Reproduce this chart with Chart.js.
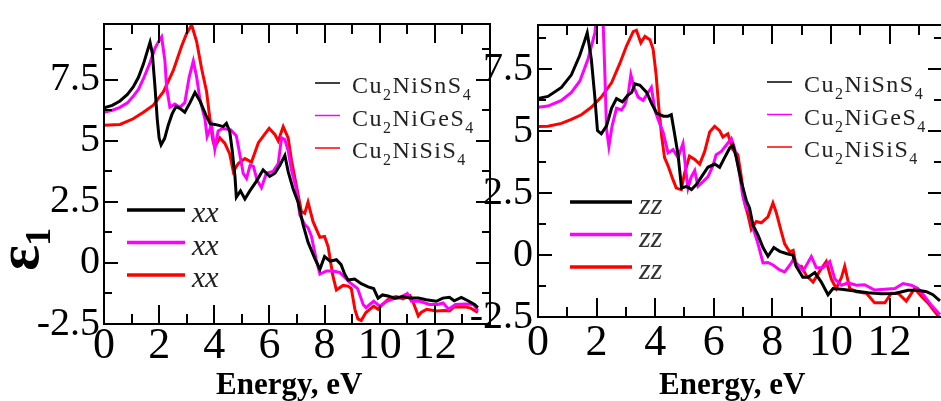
<!DOCTYPE html>
<html>
<head>
<meta charset="utf-8">
<script src="https://cdn.jsdelivr.net/npm/chart.js@4.4.0/dist/chart.umd.min.js"></script>
<style>
  html, body { margin: 0; padding: 0; background: #fff; }
  #wrap { position: relative; width: 941px; height: 401px; overflow: hidden; }
  #chartXX { position: absolute; left: 0; top: 0; }
  #chartZZ { position: absolute; left: 470px; top: 0; }
</style>
</head>
<body>
<div id="wrap">
  <canvas id="chartXX" width="492" height="401"></canvas>
  <canvas id="chartZZ" width="473" height="401"></canvas>
</div>
<script>
// compound names, same order as the series
const materials = ['Cu2NiSnS4', 'Cu2NiGeS4', 'Cu2NiSiS4'];
const colors = ['#000000', '#ff00ff', '#ff0000'];

// xx component (left panel): energy in eV, eps1
const xxSnE = [0, 0.3, 0.58, 0.85, 1.06, 1.25, 1.43, 1.58, 1.67, 1.75, 1.85, 1.93, 2.0, 2.07, 2.2, 2.33, 2.47, 2.61, 2.75, 2.93, 3.12, 3.3, 3.48, 3.7, 3.85, 4.02, 4.2, 4.32, 4.44, 4.56, 4.65, 4.75, 4.8, 4.95, 5.11, 5.29, 5.53, 5.77, 6.01, 6.2, 6.38, 6.56, 6.68, 6.86, 7.04, 7.22, 7.4, 7.64, 7.83, 8.0, 8.2, 8.43, 8.6, 8.73, 8.85, 9.09, 9.33, 9.58, 9.78, 9.94, 10.1, 10.3, 10.54, 10.84, 11.09, 11.4, 11.69, 12.05, 12.29, 12.53, 12.7, 12.96, 13.2, 13.44, 13.56];
const xxSn = [6.35, 6.45, 6.63, 6.9, 7.2, 7.6, 8.14, 8.7, 9.03, 8.6, 7.2, 5.9, 5.1, 4.83, 5.1, 5.64, 6.1, 6.4, 6.33, 6.17, 6.56, 6.98, 6.63, 6.04, 5.7, 5.67, 5.62, 5.58, 5.71, 5.38, 4.6, 3.54, 2.69, 2.95, 2.62, 2.95, 3.35, 3.81, 3.54, 3.67, 4.0, 4.4, 3.74, 3.02, 2.49, 1.57, 0.85, 0.2, -0.26, 0.26, 0.07, 0.13, -0.07, -0.46, -0.7, -0.66, -0.85, -0.98, -1.05, -1.44, -1.31, -1.35, -1.44, -1.38, -1.44, -1.44, -1.51, -1.57, -1.44, -1.41, -1.55, -1.41, -1.55, -1.7, -1.83];

const xxGeE = [0, 0.3, 0.58, 0.85, 1.06, 1.25, 1.43, 1.67, 1.85, 2.0, 2.09, 2.21, 2.27, 2.39, 2.57, 2.75, 2.93, 3.09, 3.24, 3.36, 3.48, 3.66, 3.74, 3.9, 4.02, 4.14, 4.3, 4.6, 4.8, 4.9, 5.05, 5.17, 5.3, 5.42, 5.55, 5.71, 5.89, 6.13, 6.32, 6.44, 6.56, 6.68, 6.8, 6.98, 7.1, 7.28, 7.4, 7.52, 7.7, 7.83, 8.07, 8.31, 8.55, 8.79, 8.9, 9.2, 9.4, 9.5, 9.78, 10.0, 10.25, 10.5, 10.7, 11.0, 11.15, 11.45, 11.8, 12.1, 12.3, 12.5, 12.75, 13.1, 13.4, 13.56];
const xxGe = [6.17, 6.25, 6.37, 6.55, 6.82, 7.1, 7.54, 8.2, 8.79, 9.1, 9.25, 8.27, 7.2, 6.37, 6.5, 6.37, 6.56, 7.61, 8.27, 7.61, 6.69, 5.9, 5.18, 5.64, 4.66, 5.4, 5.5, 5.45, 5.2, 4.6, 3.66, 3.46, 4.0, 3.95, 3.4, 3.08, 3.67, 3.74, 4.07, 5.12, 5.05, 4.59, 3.8, 3.02, 1.97, 1.57, 1.44, 1.1, 0.13, -0.46, -0.33, -0.33, -0.39, -0.66, -0.79, -1.05, -1.7, -1.83, -1.57, -1.77, -1.57, -1.47, -1.44, -1.25, -1.57, -1.57, -1.7, -1.7, -1.64, -1.9, -1.7, -1.68, -1.7, -1.96];

const xxSiE = [0, 0.58, 1.06, 1.43, 1.79, 2.16, 2.51, 2.81, 3.0, 3.18, 3.36, 3.54, 3.72, 3.84, 3.95, 4.02, 4.2, 4.38, 4.56, 4.69, 4.87, 5.11, 5.35, 5.6, 5.77, 5.99, 6.2, 6.32, 6.5, 6.68, 6.8, 6.98, 7.16, 7.28, 7.4, 7.58, 7.83, 8.0, 8.13, 8.3, 8.43, 8.67, 8.85, 8.97, 9.1, 9.21, 9.33, 9.5, 9.78, 9.94, 10.1, 10.35, 10.6, 10.84, 11.1, 11.2, 11.4, 11.5, 11.7, 12.05, 12.35, 12.53, 12.7, 13.1, 13.3, 13.56];
const xxSi = [5.64, 5.67, 5.9, 6.17, 6.46, 7.02, 7.87, 8.86, 9.4, 9.74, 9.06, 7.96, 7.02, 5.9, 5.0, 4.75, 5.12, 4.9, 4.46, 3.74, 4.07, 4.27, 4.13, 4.92, 5.18, 5.51, 5.25, 4.99, 5.58, 5.12, 4.2, 3.15, 2.1, 2.03, 2.49, 1.7, 1.05, 1.08, 0.66, -0.52, -1.11, -0.92, -0.95, -1.05, -1.9, -2.29, -2.36, -2.03, -1.77, -1.9, -1.7, -1.44, -1.38, -1.47, -1.34, -1.57, -2.17, -2.03, -1.9, -1.97, -1.95, -1.97, -1.8, -1.8, -1.85, -2.03];

// zz component (right panel)
const zzSnE = [0, 0.34, 0.8, 1.14, 1.42, 1.58, 1.68, 1.82, 1.94, 2.03, 2.16, 2.34, 2.51, 2.68, 2.88, 3.06, 3.2, 3.31, 3.48, 3.71, 3.88, 4.05, 4.28, 4.44, 4.55, 4.67, 4.78, 4.9, 5.07, 5.24, 5.41, 5.58, 5.8, 6.03, 6.2, 6.37, 6.54, 6.65, 6.77, 6.94, 7.11, 7.22, 7.34, 7.51, 7.68, 7.85, 8.05, 8.25, 8.5, 8.7, 8.81, 9.04, 9.22, 9.45, 9.67, 9.9, 10.07, 10.36, 10.81, 11.27, 11.72, 12.18, 12.63, 12.97, 13.26, 13.48, 13.72];
const zzSn = [6.31, 6.4, 6.76, 7.27, 8.04, 8.6, 8.97, 7.9, 6.37, 5.02, 4.89, 5.21, 5.92, 6.31, 6.18, 6.44, 6.56, 6.91, 6.85, 6.56, 6.11, 5.73, 5.6, 5.6, 5.66, 4.83, 4.05, 2.7, 2.77, 2.64, 2.85, 3.15, 3.54, 3.67, 3.54, 3.93, 4.31, 4.44, 3.93, 2.96, 2.2, 1.9, 1.2, 0.8, 0.3, -0.05, 0.3, 0.15, 0.05, 0.0, -0.45, -0.9, -0.9, -0.71, -1.09, -1.6, -1.35, -1.38, -1.45, -1.52, -1.56, -1.55, -1.42, -1.42, -1.48, -1.6, -1.85];

const zzGeE = [0, 0.34, 0.8, 1.14, 1.43, 1.71, 1.94, 2.05, 2.15, 2.22, 2.28, 2.34, 2.42, 2.53, 2.68, 2.85, 2.96, 3.08, 3.17, 3.28, 3.42, 3.59, 3.76, 3.87, 3.99, 4.1, 4.27, 4.44, 4.61, 4.78, 4.95, 5.06, 5.12, 5.23, 5.35, 5.46, 5.63, 5.8, 5.97, 6.08, 6.26, 6.43, 6.6, 6.71, 6.88, 6.99, 7.11, 7.22, 7.34, 7.51, 7.68, 7.85, 8.02, 8.25, 8.42, 8.6, 8.71, 8.88, 9.05, 9.33, 9.5, 9.73, 9.96, 10.13, 10.36, 10.58, 10.87, 11.15, 11.49, 11.84, 12.18, 12.46, 12.74, 12.97, 13.2, 13.43, 13.72];
const zzGe = [5.96, 6.01, 6.24, 6.56, 7.02, 7.92, 8.95, 10.2, 10.6, 9.5, 7.4, 5.08, 4.38, 5.21, 5.92, 5.85, 6.05, 6.5, 7.27, 6.76, 6.37, 6.24, 6.56, 6.76, 5.85, 5.47, 4.96, 4.12, 4.25, 3.93, 4.5, 3.28, 2.7, 3.15, 3.41, 2.77, 2.96, 3.15, 3.6, 4.05, 4.18, 4.44, 4.7, 4.31, 3.28, 2.38, 1.87, 1.8, 1.1, 0.45, -0.32, -0.3, -0.4, -0.6, -0.68, -0.4, -0.19, -0.4, -0.64, -0.06, -0.51, -0.51, -0.26, -0.96, -1.22, -1.12, -1.22, -1.2, -1.41, -1.38, -1.35, -1.15, -1.22, -1.35, -1.67, -2.03, -2.4];

const zzSiE = [0, 0.34, 0.8, 1.14, 1.48, 1.82, 2.16, 2.51, 2.79, 3.02, 3.25, 3.36, 3.51, 3.65, 3.82, 3.93, 4.03, 4.12, 4.22, 4.32, 4.44, 4.61, 4.72, 4.89, 5.0, 5.17, 5.35, 5.52, 5.69, 5.86, 6.03, 6.2, 6.31, 6.48, 6.65, 6.82, 6.94, 7.05, 7.17, 7.28, 7.45, 7.62, 7.85, 8.02, 8.13, 8.3, 8.42, 8.59, 8.71, 8.82, 8.99, 9.16, 9.39, 9.62, 9.84, 10.01, 10.18, 10.36, 10.47, 10.64, 10.87, 11.21, 11.49, 11.84, 12.06, 12.29, 12.57, 12.86, 13.09, 13.31, 13.48, 13.72];
const zzSi = [5.19, 5.2, 5.31, 5.47, 5.66, 5.96, 6.37, 6.95, 7.72, 8.43, 9.01, 9.07, 8.56, 8.82, 8.69, 8.3, 7.3, 6.0, 4.8, 3.93, 3.6, 3.03, 2.7, 2.64, 3.28, 3.99, 3.86, 3.67, 4.18, 4.96, 5.19, 5.02, 4.76, 4.89, 4.25, 4.05, 3.15, 2.12, 1.6, 1.03, 1.35, 1.3, 1.54, 2.1, 1.73, 0.96, 0.45, 0.13, 0.19, -0.45, -0.45, -0.83, -1.09, -0.64, -0.26, -0.96, -1.35, -0.9, -0.45, -1.35, -1.48, -1.54, -1.93, -1.93, -1.54, -1.54, -1.86, -1.35, -1.67, -1.93, -2.19, -2.55];

function pts(es, vs) {
    return es.map((e, i) => ({x: e, y: vs[i]}));
}

function makeDatasets(series) {
    return series.map((s, i) => ({
        label: materials[i],
        data: pts(s[0], s[1]),
        borderColor: colors[i],
        backgroundColor: colors[i],
        borderWidth: 3,
        pointRadius: 0,
        tension: 0,
        fill: false,
        clip: 0
    }));
}

// frame round the plot with inward ticks on all four sides
const frameTicks = {
    id: 'frameTicks',
    afterDatasetsDraw(chart) {
        const {ctx, chartArea: a, scales: {x, y}} = chart;
        ctx.save();
        ctx.strokeStyle = '#000';
        ctx.lineWidth = 2;
        ctx.strokeRect(a.left, a.top, a.right - a.left, a.bottom - a.top);
        ctx.beginPath();
        for (let v = 1; v < x.max; v += 1) {
            const px = Math.round(x.getPixelForValue(v));
            const len = v % 2 === 0 ? 19 : 10;
            ctx.moveTo(px, a.bottom); ctx.lineTo(px, a.bottom - len);
            ctx.moveTo(px, a.top); ctx.lineTo(px, a.top + len);
        }
        for (let k = 1; -2.5 + k * 1.25 < y.max; k++) {
            const py = Math.round(y.getPixelForValue(-2.5 + k * 1.25));
            const len = k % 2 === 0 ? 14 : 8;
            ctx.moveTo(a.left, py); ctx.lineTo(a.left + len, py);
            ctx.moveTo(a.right, py); ctx.lineTo(a.right - len, py);
        }
        ctx.stroke();
        ctx.restore();
    }
};

function drawFormula(ctx, text, x, y) {
    let cx = x;
    for (const ch of text) {
        const sub = ch >= '0' && ch <= '9';
        ctx.font = sub ? '16px "Liberation Serif"' : '24px "Liberation Serif"';
        ctx.fillText(ch, cx, sub ? y + 7 : y);
        cx += ctx.measureText(ch).width + 1.5;
    }
}

// two legends: compounds (thin lines) and tensor component (thick lines)
const twoLegends = {
    id: 'twoLegends',
    afterDatasetsDraw(chart, args, o) {
        const ctx = chart.ctx;
        ctx.save();
        ctx.textAlign = 'left';
        ctx.textBaseline = 'alphabetic';
        chart.data.datasets.forEach((ds, i) => {
            const y1 = o.matY + i * o.dy;
            ctx.strokeStyle = ds.borderColor;
            ctx.lineWidth = 1.5;
            ctx.beginPath();
            ctx.moveTo(o.matX, y1);
            ctx.lineTo(o.matX + 25, y1);
            ctx.stroke();
            ctx.fillStyle = '#222';
            drawFormula(ctx, ds.label, o.matX + 37, y1 + 10);

            const y2 = o.dirY + i * o.dy;
            ctx.lineWidth = 3.5;
            ctx.beginPath();
            ctx.moveTo(o.dirX, y2);
            ctx.lineTo(o.dirX + o.dirLen, y2);
            ctx.stroke();
            ctx.fillStyle = o.dirColor;
            ctx.font = 'italic 30px "Liberation Serif"';
            ctx.fillText(o.dir, o.dirX + o.dirLen + 7, y2 + 12);
        });
        ctx.restore();
    }
};

function createPanel(id, series, opts) {
    const ctx = document.getElementById(id).getContext('2d');
    return new Chart(ctx, {
        type: 'line',
        data: {datasets: makeDatasets(series)},
        options: {
            responsive: false,
            animation: false,
            devicePixelRatio: 1,
            layout: {padding: {top: 12, right: opts.padRight, bottom: 0, left: 0}},
            plugins: {
                legend: {display: false},
                tooltip: {enabled: false},
                twoLegends: opts.legend
            },
            scales: {
                x: {
                    type: 'linear',
                    min: 0,
                    max: opts.xMax,
                    grid: {display: false, drawTicks: false},
                    border: {display: false},
                    afterFit: function (scale) { scale.height = opts.xHeight; },
                    ticks: {
                        stepSize: 2,
                        includeBounds: false,
                        autoSkip: false,
                        maxRotation: 0,
                        padding: opts.xTickPad,
                        color: '#000',
                        font: {family: '"Liberation Serif"', size: 44, lineHeight: 1},
                        callback: v => v <= 12 ? String(v) : ''
                    },
                    title: {
                        display: true,
                        text: opts.xTitle,
                        color: '#000',
                        padding: {top: 0, bottom: 0},
                        font: {family: '"Liberation Serif"', size: 31, weight: 'bold', lineHeight: 1}
                    }
                },
                y: {
                    min: -2.5,
                    max: opts.yMax,
                    grid: {display: false, drawTicks: false},
                    border: {display: false},
                    afterFit: function (scale) { scale.width = opts.yWidth; },
                    ticks: {
                        stepSize: 2.5,
                        includeBounds: false,
                        autoSkip: false,
                        padding: opts.yTickPad,
                        color: '#000',
                        font: {family: '"Liberation Serif"', size: 40, lineHeight: 1},
                        callback: v => String(v)
                    },
                    title: {
                        display: opts.yTitle !== '',
                        text: opts.yTitle,
                        color: '#000',
                        padding: {top: 0, bottom: 0},
                        font: {family: '"Liberation Serif", "DejaVu Serif"', size: 60, weight: 'bold', lineHeight: 0.75}
                    }
                }
            }
        },
        plugins: [frameTicks, twoLegends]
    });
}

createPanel('chartXX', [[xxSnE, xxSn], [xxGeE, xxGe], [xxSiE, xxSi]], {
    xMax: 14, yMax: 9.78, padRight: 2, xHeight: 77, yWidth: 104,
    xTickPad: 0, yTickPad: 4,
    xTitle: 'Energy, eV\u2002',
    yTitle: 'ε₁\u2002\u2002\u2002\u2002\u2002',
    legend: {matX: 315, matY: 83, dy: 32.5, dirX: 127, dirY: 210, dirLen: 58, dir: 'xx', dirColor: '#222'}
});

createPanel('chartZZ', [[zzSnE, zzSn], [zzGeE, zzGe], [zzSiE, zzSi]], {
    xMax: 13.79, yMax: 9.28, padRight: 1, xHeight: 84, yWidth: 68,
    xTickPad: 4, yTickPad: 5,
    xTitle: 'Energy, eV\u2002',
    yTitle: '',
    legend: {matX: 297, matY: 82, dy: 32.5, dirX: 100, dirY: 202, dirLen: 62, dir: 'zz', dirColor: '#333'}
});
</script>
</body>
</html>
